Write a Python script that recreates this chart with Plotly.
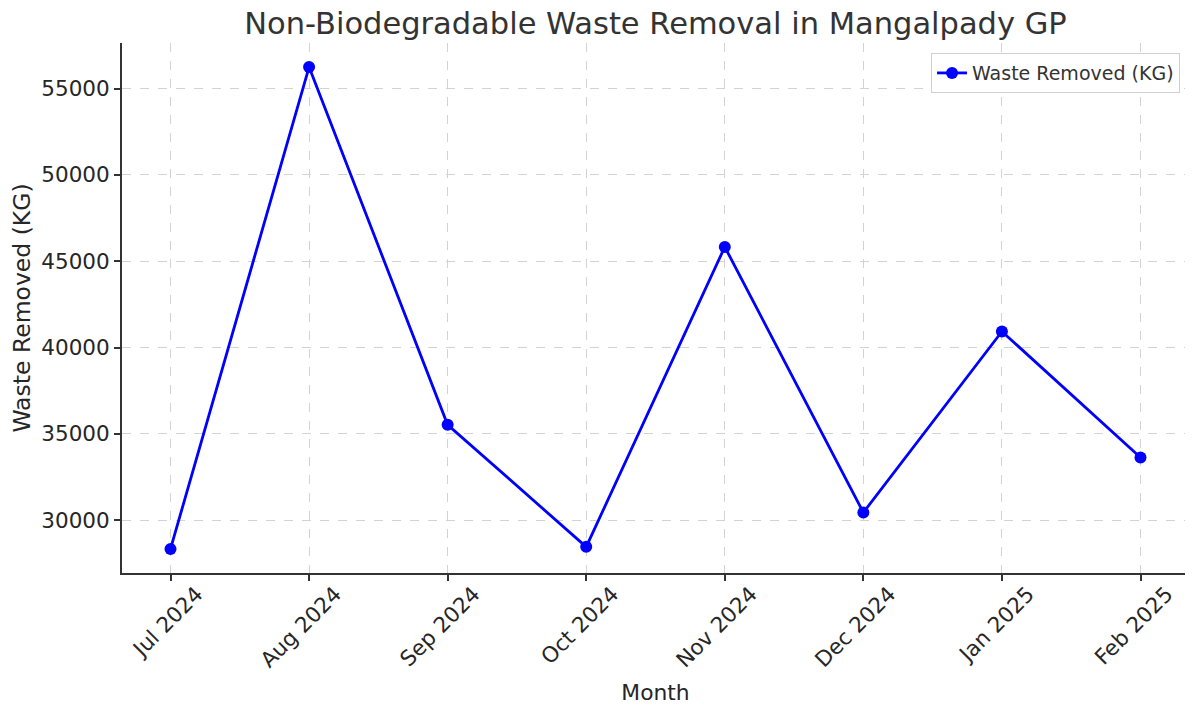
import plotly.graph_objects as go

months = ["Jul 2024", "Aug 2024", "Sep 2024", "Oct 2024", "Nov 2024", "Dec 2024", "Jan 2025", "Feb 2025"]
waste_kg = [28330, 56250, 35520, 28450, 45830, 30440, 40930, 33630]
y_ticks = [30000, 35000, 40000, 45000, 50000, 55000]
y_tick_labels = ["30000", "35000", "40000", "45000", "50000", "55000"]

idx = list(range(len(months)))

fig = go.Figure()
fig.add_trace(go.Scatter(
    x=idx, y=waste_kg, mode="lines+markers", name="Waste Removed (KG)",
    line=dict(color="#0000ff", width=2.8),
    marker=dict(color="#0000ff", size=12),
))

font_family = "DejaVu Sans"
txt = "#262626"
fig.update_layout(
    width=1193, height=706,
    margin=dict(l=114, r=12, t=35, b=141),
    paper_bgcolor="white", plot_bgcolor="white",
    font=dict(family=font_family, color=txt),
    title=dict(text="Non-Biodegradable Waste Removal in Mangalpady GP",
               xref="paper", x=0.5, xanchor="center", y=0.979, yanchor="middle",
               font=dict(size=30.5, family=font_family, color="#333333")),
    showlegend=True,
    legend=dict(x=0.9916, y=0.981, xanchor="right", yanchor="top",
                bgcolor="white", bordercolor="#d0d0d0", borderwidth=1,
                font=dict(size=19, family=font_family, color="#333333")),
)
fig.update_xaxes(
    range=[-0.35, 7.35], tickmode="array", tickvals=idx, ticktext=months,
    tickangle=-45, tickfont=dict(size=21.5, family=font_family, color=txt),
    showgrid=True, gridcolor="#d3d3d3", griddash="dash", gridwidth=1,
    showline=True, linecolor="#333333", linewidth=2,
    ticks="outside", ticklen=6, tickcolor="#333333", tickwidth=1.5,
    zeroline=False, ticklabelshift=26, ticklabelstandoff=-8, automargin=False,
    title=dict(text="Month", font=dict(size=21.8, family=font_family, color=txt), standoff=13),
)
fig.update_yaxes(
    range=[26934, 57646], tickmode="array", tickvals=y_ticks, ticktext=y_tick_labels,
    tickfont=dict(size=21.5, family=font_family, color=txt),
    showgrid=True, gridcolor="#d3d3d3", griddash="dash", gridwidth=1,
    showline=True, linecolor="#333333", linewidth=2,
    ticks="outside", ticklen=6, tickcolor="#333333", tickwidth=1.5,
    zeroline=False, automargin=False,
    title=dict(text="Waste Removed (KG)", font=dict(size=23.5, family=font_family, color=txt), standoff=8),
)

fig.write_html("out.html")
